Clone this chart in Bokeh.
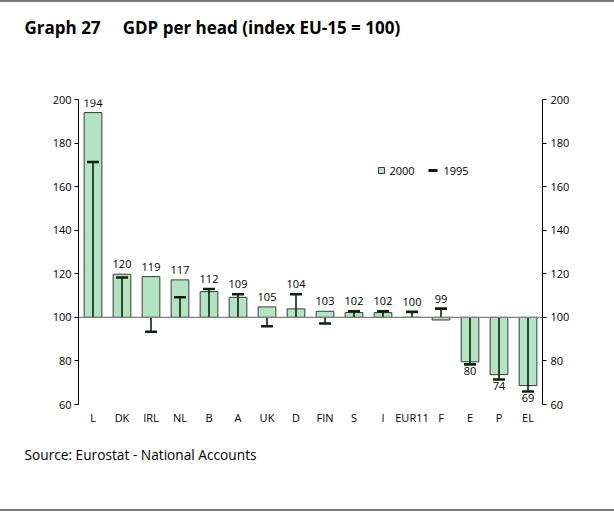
from bokeh.plotting import figure
from bokeh.layouts import column
from bokeh.models import (Range1d, LinearAxis, FixedTicker, Label, Span, BoxAnnotation,
                          ColumnDataSource, Title, Spacer)
from bokeh.core.properties import value
from bokeh.embed import file_html
from bokeh.resources import INLINE

countries = ["L", "DK", "IRL", "NL", "B", "A", "UK", "D", "FIN", "S", "I", "EUR11", "F", "E", "P", "EL"]
gdp_2000 = [194.0, 119.8, 118.7, 117.2, 111.8, 109.2, 104.8, 103.9, 102.8, 102.2, 102.2, 100.0, 98.8, 79.6, 73.7, 68.7]
gdp_1995 = [171.3, 118.3, 93.4, 109.2, 113.0, 110.6, 95.9, 110.6, 97.2, 102.8, 102.8, 102.5, 104.0, 78.4, 71.5, 66.0]
y_ticks = [60, 80, 100, 120, 140, 160, 180, 200]
base = 100

FONT = "Open Sans"
GREEN = "#b2e3c2"
DARK = "#0d200f"
RULE = "#7a7a7a"

W, H = 614, 507
FL, FT, FB, FR = 78, 97, 402, 542

p = figure(x_range=countries, y_range=Range1d(60, 200), width=W, height=H,
           output_backend="svg", toolbar_location=None,
           min_border_left=FL, min_border_right=W - FR, min_border_top=FT, min_border_bottom=H - FB)
p.outline_line_color = None
p.xgrid.grid_line_color = None
p.ygrid.grid_line_color = None
p.background_fill_color = "white"
p.border_fill_color = "white"

above = [max(a, b) > base for a, b in zip(gdp_2000, gdp_1995)]
labels_y = [max(a, b) if u else min(a, b) for a, b, u in zip(gdp_2000, gdp_1995, above)]
label_txt = [str(int(round(v))) for v in gdp_2000]
src = ColumnDataSource(dict(x=countries, top=gdp_2000, y95=gdp_1995))
src_up = ColumnDataSource(dict(x=[c for c, u in zip(countries, above) if u],
                               ly=[v for v, u in zip(labels_y, above) if u],
                               lt=[t for t, u in zip(label_txt, above) if u]))
src_dn = ColumnDataSource(dict(x=[c for c, u in zip(countries, above) if not u],
                               ly=[v for v, u in zip(labels_y, above) if not u],
                               lt=[t for t, u in zip(label_txt, above) if not u]))

p.add_layout(Span(location=base, dimension="width", line_color="#7f7f7f", line_width=1.2))

p.vbar(x="x", top="top", bottom=base, width=0.61, source=src,
       fill_color=GREEN, line_color="#3a3a3a", line_width=1)
p.segment(x0="x", y0=base, x1="x", y1="y95", source=src, line_color=DARK, line_width=1.6)
p.scatter(x="x", y="y95", marker="dash", size=12, line_width=2.6, line_color=DARK, source=src)

p.text(x="x", y="ly", text="lt", source=src_up, text_align="center", text_baseline="bottom",
       y_offset=-6, text_font=value(FONT), text_font_size="11px", text_color="black")
p.text(x="x", y="ly", text="lt", source=src_dn, text_align="center", text_baseline="top",
       y_offset=3, text_font=value(FONT), text_font_size="11px", text_color="black")

# axes
ax = p.yaxis[0]
ax.ticker = FixedTicker(ticks=y_ticks)
ax.major_tick_out = 4
ax.major_tick_in = 0
ax.minor_tick_line_color = None
ax.axis_line_color = "black"
ax.major_tick_line_color = "black"
ax.major_label_standoff = 3
ax.major_label_text_font = FONT
ax.major_label_text_font_size = "11px"
ax.major_label_text_color = "black"

rax = LinearAxis(ticker=FixedTicker(ticks=y_ticks))
rax.major_tick_out = 4
rax.major_tick_in = 0
rax.minor_tick_line_color = None
rax.axis_line_color = "black"
rax.major_label_standoff = 4
rax.major_label_text_font = FONT
rax.major_label_text_font_size = "11px"
rax.major_label_text_color = "black"
p.add_layout(rax, "right")

xa = p.xaxis[0]
xa.axis_line_color = None
xa.major_tick_line_color = None
xa.major_tick_out = 0
xa.major_tick_in = 0
xa.major_label_standoff = 5
xa.major_label_text_font = FONT
xa.major_label_text_font_size = "11px"
xa.major_label_text_color = "black"

# title (with an invisible spacer title between it and the frame) and source
NB = "\u00a0"
p.add_layout(Title(text=NB, standoff=56, text_font=FONT, text_font_size="2px"), "above")
p.add_layout(Title(text="Graph 27" + NB * 5 + "GDP per head (index EU-15 = 100)", align="left",
                   offset=24 - FL, standoff=0, text_font=FONT, text_font_size="17px",
                   text_font_style="bold", text_color="black"), "above")
p.add_layout(Title(text="Source: Eurostat - National Accounts", align="left",
                   offset=24 - FL, standoff=30, text_font=FONT, text_font_size="13.7px",
                   text_font_style="normal", text_color="black"), "below")

# legend (screen units relative to frame bottom-left)
def sy(canvas_y):
    return FB - canvas_y

def box(l, r, t, b, **kw):
    return BoxAnnotation(left=l - FL, right=r - FL, top=sy(t), bottom=sy(b),
                         left_units="screen", right_units="screen",
                         top_units="screen", bottom_units="screen", **kw)

LY = 168  # legend centre in plot coordinates
p.add_layout(box(378, 384, LY - 3, LY + 3, fill_color=GREEN, fill_alpha=1,
                 line_color="#3a3a3a", line_width=1, line_alpha=1))
p.add_layout(Label(x=389 - FL, y=sy(LY), x_units="screen", y_units="screen", text="2000",
                   text_font=FONT, text_font_size="11px", text_baseline="middle", text_color="black"))
p.add_layout(box(428, 437, LY - 1.5, LY + 1.5, fill_color=DARK, fill_alpha=1, line_color=None))
p.add_layout(Label(x=443 - FL, y=sy(LY), x_units="screen", y_units="screen", text="1995",
                   text_font=FONT, text_font_size="11px", text_baseline="middle", text_color="black"))

top_rule = Spacer(width=W, height=2, styles={"background-color": RULE})
bottom_rule = Spacer(width=W, height=2, styles={"background-color": RULE})
layout = column(top_rule, p, bottom_rule, spacing=0)

open("out.html", "w").write(file_html(layout, INLINE))
